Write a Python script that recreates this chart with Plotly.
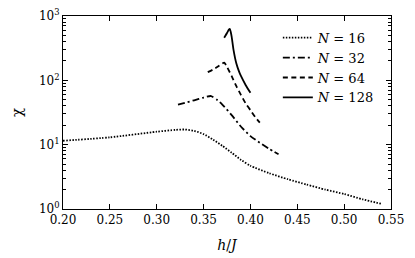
import plotly.graph_objects as go

h16 = [0.20, 0.25, 0.30, 0.32, 0.33, 0.34, 0.35, 0.36, 0.37, 0.38, 0.39, 0.40, 0.42, 0.44, 0.46, 0.48, 0.50, 0.52, 0.54]
chi16 = [11.5, 13.0, 15.9, 17.0, 17.2, 16.4, 14.6, 12.0, 9.6, 7.5, 5.8, 4.7, 3.6, 2.9, 2.4, 2.0, 1.71, 1.41, 1.2]

h32 = [0.3227, 0.33, 0.34, 0.35, 0.358, 0.365, 0.37, 0.38, 0.39, 0.40, 0.41, 0.42, 0.43]
chi32 = [42, 44.7, 49, 54, 57, 49, 42, 28.8, 19, 13.6, 10.7, 8.6, 7.1]

h64 = [0.3545, 0.36, 0.365, 0.37, 0.372, 0.375, 0.38, 0.385, 0.39, 0.395, 0.40, 0.405, 0.41]
chi64 = [134, 147, 162, 182, 189, 162, 116, 81, 59, 43.6, 34.4, 27, 22]

h128 = [0.372, 0.375, 0.377, 0.378, 0.379, 0.380, 0.382, 0.385, 0.388, 0.39, 0.395, 0.40]
chi128 = [460, 545, 614, 630, 565, 473, 294, 182, 135, 116, 84, 64]

series = [
    ("<i>N</i> = 16", h16, chi16, "1.5px,1.5px"),
    ("<i>N</i> = 32", h32, chi32, "7px,3px,2px,3px"),
    ("<i>N</i> = 64", h64, chi64, "5px,3.5px"),
    ("<i>N</i> = 128", h128, chi128, "solid"),
]

x_tick_start = 0.20
x_tick_step = 0.05
y_ticks = [1, 10, 100, 1000]
y_ticktext = ["10<sup>0</sup>", "10<sup>1</sup>", "10<sup>2</sup>", "10<sup>3</sup>"]
y_minor = [m * d for d in [1, 10, 100] for m in range(2, 10)]

FONT = "DejaVu Serif"

fig = go.Figure()
for name, x, y, dash in series:
    fig.add_trace(go.Scatter(x=x, y=y, mode="lines", name=name,
                             line=dict(color="black", width=1.8, dash=dash, shape="spline", smoothing=0.6)))

fig.update_layout(
    width=415, height=258,
    margin=dict(l=63, r=24, t=16, b=49, autoexpand=False),
    paper_bgcolor="white", plot_bgcolor="white",
    font=dict(family=FONT, size=12, color="black"),
    showlegend=True,
    legend=dict(x=0.655, y=0.965, xanchor="left", yanchor="top",
                bgcolor="rgba(0,0,0,0)", borderwidth=0, tracegroupgap=0,
                font=dict(family=FONT, size=13)),
    xaxis=dict(range=[0.20, 0.55], tickmode="linear", tick0=x_tick_start, dtick=x_tick_step, tickformat=".2f",
               ticks="inside", ticklen=5, tickcolor="black", showline=True, linecolor="black",
               linewidth=1, mirror="allticks", showgrid=False, zeroline=False, automargin=False,
               tickfont=dict(family=FONT, size=12),
               title=dict(text="<i>h</i>/<i>J</i>", standoff=13, font=dict(family=FONT, size=14))),
    yaxis=dict(type="log", range=[0, 3], tickvals=y_ticks, ticktext=y_ticktext,
               ticks="inside", ticklen=5, tickcolor="black", showline=True, linecolor="black",
               linewidth=1, mirror="allticks", showgrid=False, zeroline=False, automargin=False,
               tickfont=dict(family=FONT, size=12),
               minor=dict(tickvals=y_minor, ticks="inside", ticklen=3, tickcolor="black", showgrid=False),
               title=dict(text="χ", standoff=12, font=dict(family=FONT, size=15))),
)

fig.write_html("out.html", config={"displayModeBar": False},
               post_script="document.body.style.margin='0';document.body.style.padding='0';")
